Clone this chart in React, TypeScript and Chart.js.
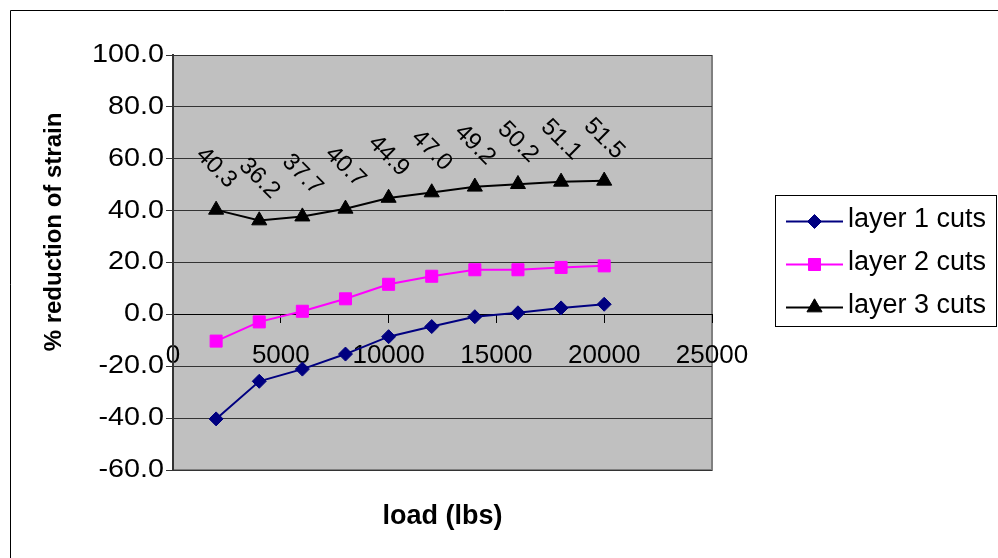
import React, { useEffect, useRef } from 'react';
import { Chart, registerables } from 'chart.js';
import { drawPoint } from 'chart.js/helpers';

Chart.register(...registerables);

// Applied load (lbs) at each measurement
const loads = [2000, 4000, 6000, 8000, 10000, 12000, 14000, 16000, 18000, 20000];

// % reduction of strain per cut layer
const layer1 = [-40.3, -25.8, -21.1, -15.3, -8.6, -4.7, -0.9, 0.6, 2.5, 3.9];
const layer2 = [-10.3, -2.9, 1.2, 6.0, 11.6, 14.7, 17.2, 17.2, 18.1, 18.7];
const layer3 = [40.3, 36.2, 37.7, 40.7, 44.9, 47.0, 49.2, 50.2, 51.1, 51.5];

const seriesNames = ['layer 1 cuts', 'layer 2 cuts', 'layer 3 cuts'];
const seriesValues = [layer1, layer2, layer3];
const seriesColors = ['#000080', '#FF00FF', '#000000'];
const seriesMarkers = ['rectRot', 'rect', 'triangle'];
const markerRadii = [7, 8.5, 8.7];

const xAxisTitle = 'load (lbs)';
const yAxisTitle = '% reduction of strain';

const FONT = '"Liberation Sans", Arial, Helvetica, sans-serif';

const decorPlugin = {
  id: 'decor',
  beforeDraw(chart: any) {
    const { ctx, chartArea: a, width, height } = chart;
    ctx.save();
    ctx.fillStyle = '#ffffff';
    ctx.fillRect(0, 0, width, height);
    // outer chart frame
    ctx.strokeStyle = '#000000';
    ctx.lineWidth = 1;
    ctx.beginPath();
    ctx.moveTo(10.5, height);
    ctx.lineTo(10.5, 10.5);
    ctx.lineTo(width, 10.5);
    ctx.stroke();
    // plot area
    ctx.fillStyle = '#C0C0C0';
    ctx.fillRect(a.left, a.top, a.right - a.left, a.bottom - a.top);
    ctx.fillStyle = '#808080';
    ctx.fillRect(a.right - 1, a.top, 2, a.bottom - a.top + 1);
    ctx.fillRect(a.left, a.bottom - 1, a.right - a.left + 1, 2);
    ctx.strokeStyle = '#808080';
    ctx.lineWidth = 1;
    ctx.beginPath();
    ctx.moveTo(a.left, a.top + 0.5);
    ctx.lineTo(a.right, a.top + 0.5);
    ctx.stroke();
    ctx.restore();
  },
  afterDraw(chart: any) {
    const { ctx, chartArea: a } = chart;
    ctx.save();
    ctx.fillStyle = '#000000';

    // y tick labels (slightly wide face), placed by the y scale
    const ys = chart.scales.y;
    ctx.font = `25px ${FONT}`;
    ctx.textAlign = 'right';
    ctx.textBaseline = 'middle';
    ys.ticks.forEach((t: any) => {
      const py = ys.getPixelForValue(t.value);
      ctx.save();
      ctx.translate(a.left - 9, py);
      ctx.scale(1.15, 1);
      ctx.fillText(Number(t.value).toFixed(1), 0, 0);
      ctx.restore();
    });

    ctx.textAlign = 'center';
    ctx.textBaseline = 'middle';

    // value labels on layer 3
    ctx.font = `24px ${FONT}`;
    const meta = chart.getDatasetMeta(2);
    meta.data.forEach((pt: any, i: number) => {
      ctx.save();
      ctx.translate(pt.x, pt.y - 42);
      ctx.rotate(Math.PI / 4);
      ctx.fillText(layer3[i].toFixed(1), 0, 0);
      ctx.restore();
    });

    // axis titles
    ctx.font = `bold 27px ${FONT}`;
    ctx.fillText(xAxisTitle, (a.left + a.right) / 2, 517);
    ctx.save();
    ctx.translate(54, 232);
    ctx.rotate(-Math.PI / 2);
    ctx.font = `bold 24px ${FONT}`;
    ctx.fillText(yAxisTitle, 0, 0);
    ctx.restore();

    // legend
    const lx = 775.5, ly = 195.5, lw = 221, lh = 131;
    ctx.fillStyle = '#ffffff';
    ctx.fillRect(lx, ly, lw, lh);
    ctx.strokeStyle = '#000000';
    ctx.lineWidth = 1;
    ctx.strokeRect(lx, ly, lw, lh);
    const rowY = [221.5, 264.5, 307.5];
    ctx.textAlign = 'left';
    ctx.font = `27px ${FONT}`;
    seriesNames.forEach((name, i) => {
      ctx.strokeStyle = seriesColors[i];
      ctx.fillStyle = seriesColors[i];
      ctx.lineWidth = 2;
      ctx.beginPath();
      ctx.moveTo(786, rowY[i]);
      ctx.lineTo(843, rowY[i]);
      ctx.stroke();
      ctx.lineWidth = 1;
      drawPoint(ctx, { pointStyle: seriesMarkers[i], radius: markerRadii[i], rotation: 0, borderWidth: 1 } as any, 814.5, rowY[i]);
      ctx.fillStyle = '#000000';
      ctx.fillText(name, 848, rowY[i] - 2);
    });
    ctx.restore();
  },
};

export default function App() {
  const ref = useRef<HTMLCanvasElement>(null);

  useEffect(() => {
    if (!ref.current) return;
    Chart.defaults.font.family = FONT;
    const chart = new Chart(ref.current, {
      type: 'line',
      data: {
        datasets: seriesValues.map((vals, i) => ({
          label: seriesNames[i],
          data: loads.map((x, j) => ({ x, y: vals[j] })),
          borderColor: seriesColors[i],
          backgroundColor: seriesColors[i],
          pointBackgroundColor: seriesColors[i],
          pointBorderColor: seriesColors[i],
          borderWidth: 2,
          pointStyle: seriesMarkers[i] as any,
          pointRadius: markerRadii[i],
          pointBorderWidth: 1,
          tension: 0,
          fill: false,
        })),
      },
      options: {
        animation: false,
        responsive: false,
        devicePixelRatio: 1,
        layout: { padding: { left: 0, top: 55, right: 286, bottom: 88 } },
        plugins: { legend: { display: false }, tooltip: { enabled: false } },
        scales: {
          x: {
            type: 'linear',
            min: 0,
            max: 25000,
            position: { y: 0 } as any,
            ticks: {
              stepSize: 5000,
              autoSkip: false,
              maxRotation: 0,
              padding: 18,
              color: '#000000',
              font: { family: FONT, size: 26 },
              callback: (v: any) => String(v),
            },
            grid: { drawOnChartArea: false, drawTicks: true, tickLength: 8, color: '#000000', lineWidth: 1 },
            border: { display: true, color: '#000000', width: 1 },
          },
          y: {
            type: 'linear',
            position: 'left',
            min: -60,
            max: 100,
            ticks: {
              stepSize: 20,
              display: false,
            },
            grid: { color: '#333333', lineWidth: 1, tickLength: 7 },
            border: { display: true, color: '#333333', width: 2 },
            afterFit: (s: any) => { s.width = 173; },
          },
        },
      },
      plugins: [decorPlugin],
    });
    return () => chart.destroy();
  }, []);

  return (
    <div style={{ position: 'fixed', left: 0, top: 0, width: 998, height: 558, background: '#ffffff' }}>
      <canvas ref={ref} width={998} height={558} style={{ display: 'block', width: 998, height: 558 }} />
    </div>
  );
}
